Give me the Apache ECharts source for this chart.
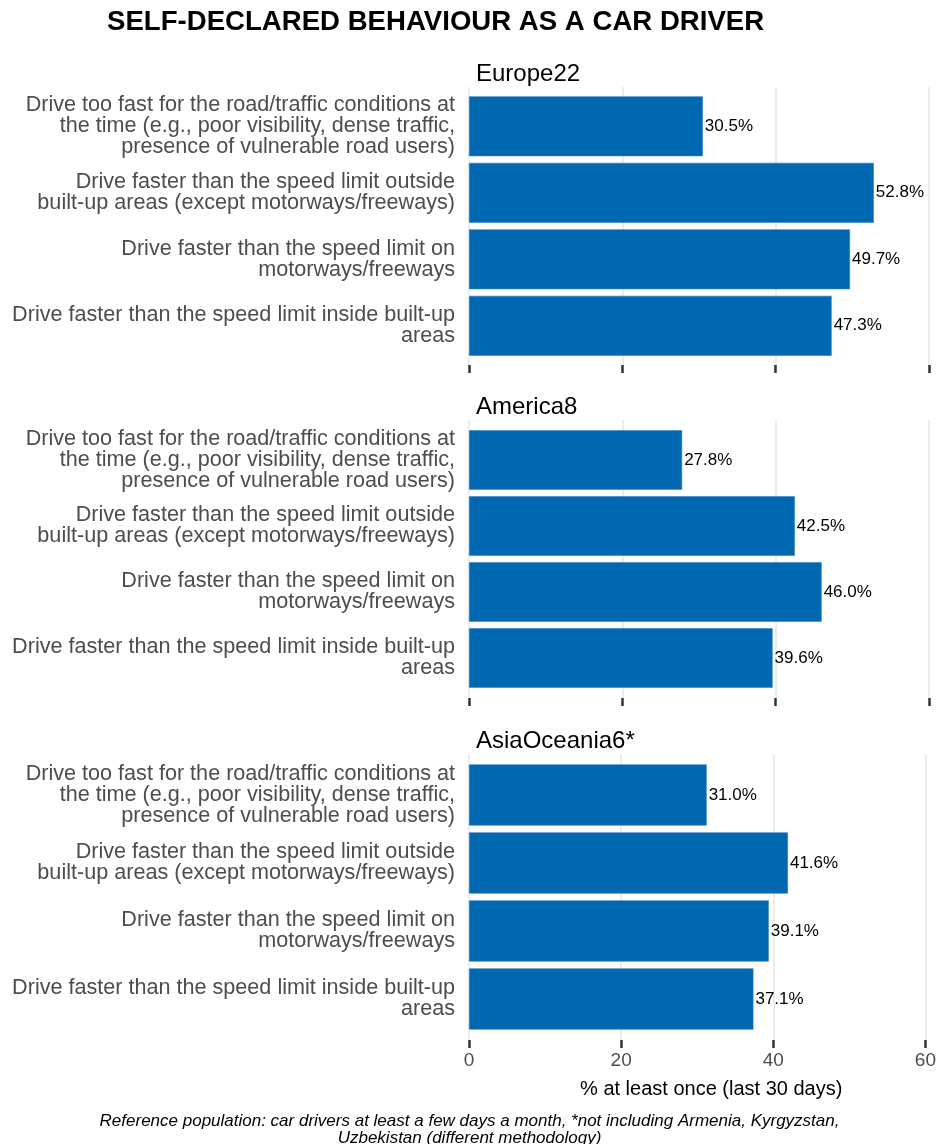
<!DOCTYPE html>
<html>
<head>
<meta charset="utf-8">
<script src="https://cdn.jsdelivr.net/npm/echarts@6/dist/echarts.min.js"></script>
<style>
  html, body { margin: 0; padding: 0; background: #fff; }
  #chart { width: 939px; height: 1144px; }
</style>
</head>
<body>
<div id="chart"></div>
<script>
// categories, top to bottom
var categories = [
    "Drive too fast for the road/traffic conditions at\nthe time (e.g., poor visibility, dense traffic,\npresence of vulnerable road users)",
    "Drive faster than the speed limit outside\nbuilt-up areas (except motorways/freeways)",
    "Drive faster than the speed limit on\nmotorways/freeways",
    "Drive faster than the speed limit inside built-up\nareas"
];
var regions = ["Europe22", "America8", "AsiaOceania6*"];
var europe22 = [30.5, 52.8, 49.7, 47.3];
var america8 = [27.8, 42.5, 46.0, 39.6];
var asiaOceania6 = [31.0, 41.6, 39.1, 37.1];
var xTicks = [0, 20, 40, 60];

var values = [europe22, america8, asiaOceania6];
var font = "Liberation Sans, Arial, sans-serif";
var barColor = "#0067b1";

// panel layout: [background top, background height, bar top, bar height, title top]
var panels = [
    [87, 278, 93, 266, 57],
    [420, 278, 427, 264, 390],
    [754, 286, 761, 272, 724]
];

var grids = [], xAxes = [], yAxes = [], series = [];
var titles = [{
    text: "SELF-DECLARED BEHAVIOUR AS A CAR DRIVER",
    left: 102,
    top: 3,
    textStyle: { fontFamily: font, fontSize: 27.6, fontWeight: "bold", color: "#000" }
}];

for (var i = 0; i < panels.length; i++) {
    var p = panels[i];
    var last = (i === panels.length - 1);
    // background grid: gridlines + ticks
    grids.push({ left: 469, right: 10, top: p[0], height: p[1] });
    xAxes.push({
        gridIndex: grids.length - 1,
        type: "value",
        min: xTicks[0],
        max: xTicks[xTicks.length - 1],
        interval: 20,
        axisLine: { show: false },
        axisTick: { show: true, length: 8, lineStyle: { color: "#333", width: 2.5 } },
        splitLine: { show: true, lineStyle: { color: "#e6e6e6", width: 1.5 } },
        axisLabel: { show: last, color: "#4d4d4d", fontSize: 19, fontFamily: font, margin: 11 },
        name: last ? "% at least once (last 30 days)" : "",
        nameLocation: "middle",
        nameGap: 39,
        nameTextStyle: { color: "#000", fontSize: 20, fontFamily: font, padding: [0, 0, 0, 28] }
    });
    yAxes.push({ gridIndex: grids.length - 1, type: "value", show: false, min: 0, max: 1 });

    // bar grid
    grids.push({ left: 469, right: 10, top: p[2], height: p[3] });
    xAxes.push({
        gridIndex: grids.length - 1,
        type: "value",
        min: 0,
        max: 60,
        show: false,
        splitLine: { show: false }
    });
    yAxes.push({
        gridIndex: grids.length - 1,
        type: "category",
        inverse: true,
        data: categories,
        axisLine: { show: false },
        axisTick: { show: false },
        axisLabel: { color: "#4d4d4d", fontSize: 21.6, lineHeight: 21, fontFamily: font, margin: 14 }
    });
    series.push({
        type: "bar",
        xAxisIndex: xAxes.length - 1,
        yAxisIndex: yAxes.length - 1,
        data: values[i],
        barCategoryGap: "10%",
        itemStyle: { color: barColor, borderColor: "#2f7fc0", borderWidth: 0.6 },
        label: {
            show: true,
            position: "right",
            distance: 2,
            color: "#000",
            fontSize: 17,
            fontFamily: font,
            formatter: function (d) { return d.value.toFixed(1) + "%"; }
        },
        silent: true
    });

    titles.push({
        text: regions[i],
        left: 471,
        top: p[4],
        textStyle: { fontFamily: font, fontSize: 24, fontWeight: "normal", color: "#000" }
    });
}

titles.push({
    text: "Reference population: car drivers at least a few days a month, *not including Armenia, Kyrgyzstan,\nUzbekistan (different methodology)",
    left: "center",
    top: 1108,
    textStyle: { fontFamily: font, fontSize: 17, fontStyle: "italic", fontWeight: "normal", color: "#000", lineHeight: 17 }
});

var chart = echarts.init(document.getElementById("chart"));
chart.setOption({
    animation: false,
    backgroundColor: "#fff",
    title: titles,
    grid: grids,
    xAxis: xAxes,
    yAxis: yAxes,
    series: series
});
</script>
</body>
</html>
